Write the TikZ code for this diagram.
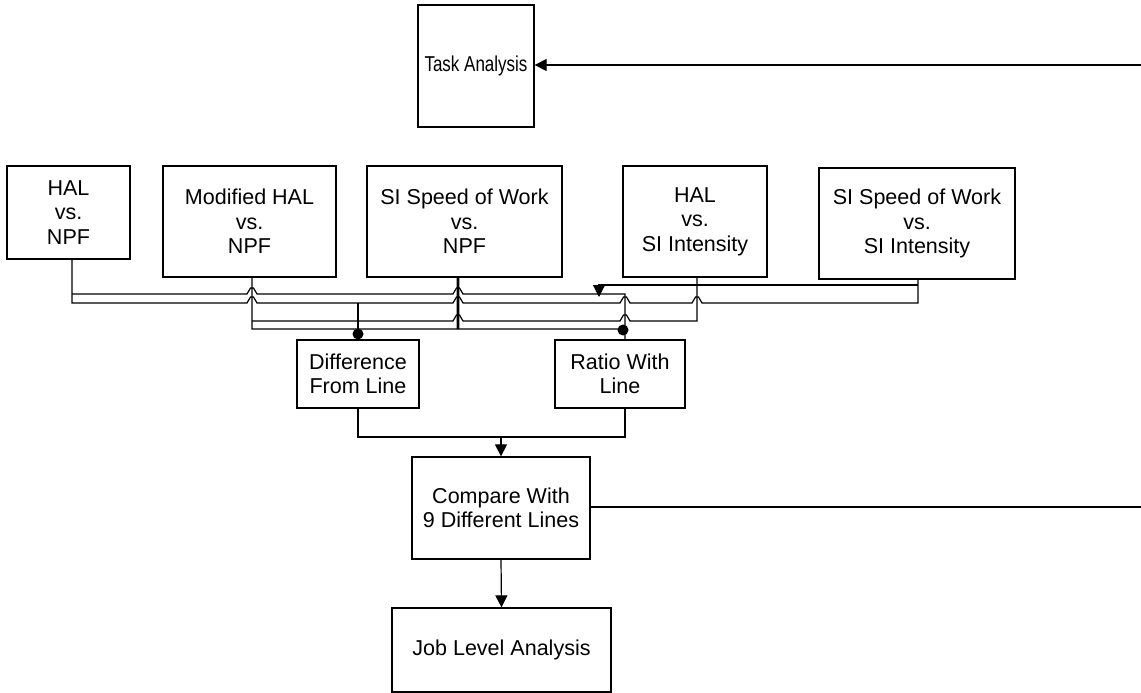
\documentclass[tikz,border=0pt]{standalone}
\usepackage{fontspec}
\setmainfont{Liberation Sans}
\usetikzlibrary{arrows.meta}
\begin{document}
\begin{tikzpicture}[x=1bp,y=-1bp,
  box/.style={draw, line width=1.3bp, align=center, inner sep=0pt,
    font=\fontsize{21.6}{24.5}\selectfont},
  wire/.style={line width=1.2bp},
  thickwire/.style={line width=2.6bp},
  arr/.style={-{Triangle[length=12bp,width=12bp]}},
  jdot/.style={circle, fill, inner sep=0pt, minimum size=11bp}]
\useasboundingbox (0,0) rectangle (1141,693);
\def\yA{294}\def\yB{303}\def\yC{321}\def\yD{329}\def\yE{285}
\def\hop#1#2{-- ({#1-5},#2) -- ({#1-1.5},{#2-6}) -- ({#1+1.5},{#2-6}) -- ({#1+5},#2)}
% boxes
\node[box, minimum width=116bp, minimum height=122bp] (ta) at (476,66) {\scalebox{0.79}[1]{Task Analysis}};
\node[box, minimum width=123bp, minimum height=93bp] (h1) at (68.5,212.5) {HAL\\vs.\\NPF};
\node[box, minimum width=173bp, minimum height=111bp] (h2) at (249.5,221.5) {Modified HAL\\vs.\\NPF};
\node[box, minimum width=195bp, minimum height=111bp] (h3) at (464.5,221.5) {SI Speed of Work\\vs.\\NPF};
\node[box, minimum width=144bp, minimum height=111bp] (h4) at (695,221.5) {HAL\\vs.\\SI Intensity};
\node[box, minimum width=196bp, minimum height=111bp] (h5) at (917,223.5) {SI Speed of Work\\vs.\\SI Intensity};
\node[box, minimum width=122bp, minimum height=68bp] (dif) at (358,374) {Difference\\From Line};
\node[box, minimum width=130bp, minimum height=68bp] (rat) at (620,374) {Ratio With\\Line};
\node[box, minimum width=178bp, minimum height=102bp] (cmp) at (501,508) {Compare With\\9 Different Lines};
\node[box, minimum width=219bp, minimum height=84bp] (job) at (501.5,650) {Job Level Analysis};
\coordinate (r1) at (1141,65);
\coordinate (r2) at (1141,507);
% wires
\draw[wire] ([xshift=3.5bp]h1.south) -- (72,\yB) \hop{252}{\yB} \hop{458}{\yB} \hop{625}{\yB} \hop{697}{\yB} -- (918,\yB) -- ([xshift=1bp]h5.south);
\draw[wire] (72,\yA) \hop{252}{\yA} \hop{458}{\yA} -- (625,\yA) -- ([xshift=5bp]rat.north);
\draw[wire] (252,\yC) \hop{458}{\yC} \hop{625}{\yC} -- (697,\yC) -- ([xshift=2bp]h4.south);
\draw[wire] ([xshift=2.5bp]h2.south) -- (252,\yD) -- (625,\yD);
\draw[thickwire] ([xshift=-6.5bp]h3.south) -- (458,\yD);
\draw[wire] (358,\yB) -- (dif.north);
\draw[wire, arr] (918,\yE) -- (599,\yE) -- (599,297);
\node[jdot] (d1) at (358,334) {};
\node[jdot] (d2) at (623,330) {};
\draw[wire] (dif.south) -- (358,437) -| ([xshift=5bp]rat.south);
\draw[wire, arr] (501,437) -- (cmp.north);
\draw[wire, arr] (cmp.south) -- (job.north);
\draw[wire] (cmp.east |- r2) -- (r2);
\draw[wire, arr] (r1) -- (ta.east |- r1);
\end{tikzpicture}
\end{document}
